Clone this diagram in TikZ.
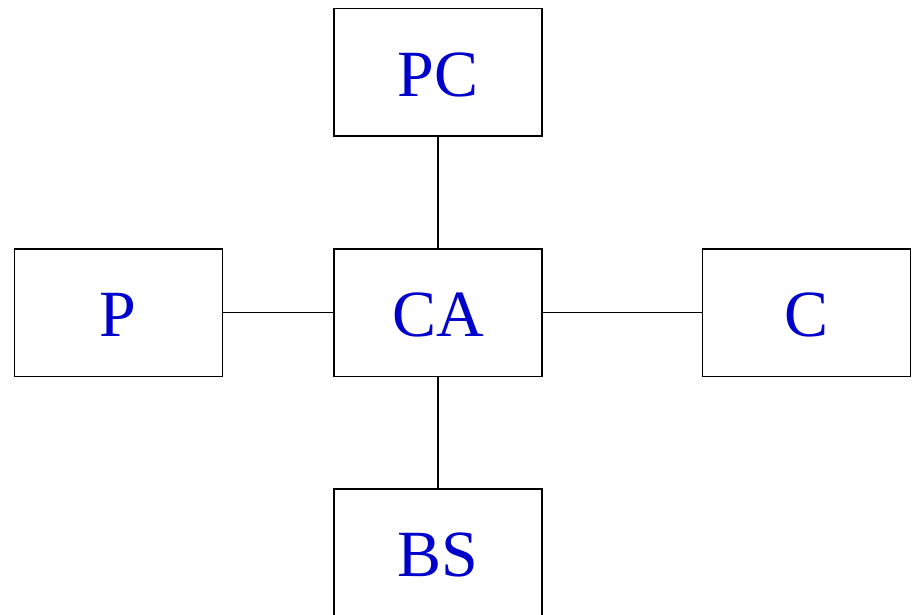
\documentclass[tikz,border=0pt]{standalone}
\usepackage{fontspec}
\setmainfont{Liberation Serif}
\definecolor{labelblue}{RGB}{0,0,205}
\begin{document}
\begin{tikzpicture}[x=1pt,y=-1pt,
  unit/.style={draw=black, line width=1.5pt, minimum width=208pt, minimum height=127.5pt,
    inner sep=0pt, text=labelblue, text height=48.4pt, text depth=0pt,
    font=\fontsize{66}{70}\selectfont},
  link/.style={line width=1.5pt}]
  \useasboundingbox (0,0) rectangle (916,615);
  % central unit and its four neighbours
  \node[unit] (ca) at (438.2,312.5) {CA};
  \node[unit] (pc) at (438.2,72.5)  {PC};
  \node[unit] (p)  at (118.3,312.5) {P};
  \node[unit] (c)  at (806.3,312.5) {C};
  \node[unit] (bs) at (438.2,552.5) {BS};
  % connections to the centre
  \draw[link] (ca) -- (pc);
  \draw[link] (ca) -- (p);
  \draw[link] (ca) -- (c);
  \draw[link] (ca) -- (bs);
\end{tikzpicture}
\end{document}
